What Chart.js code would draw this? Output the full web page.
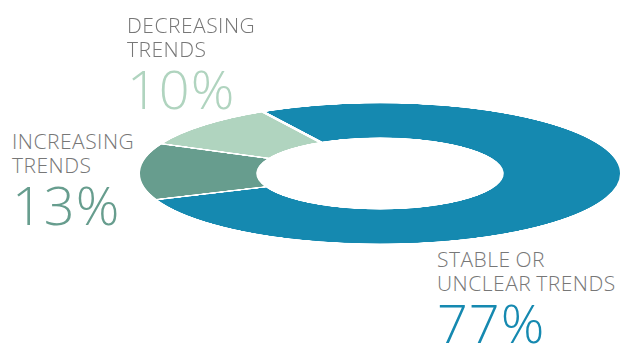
<!DOCTYPE html>
<html>
<head>
<meta charset="utf-8">
<script src="https://cdn.jsdelivr.net/npm/chart.js@4.4.0/dist/chart.umd.min.js"></script>
<style>
  html, body { margin: 0; padding: 0; background: #fff; }
  #wrap { position: relative; width: 622px; height: 345px; overflow: hidden; font-family: "Open Sans", sans-serif; }
  #ring { position: absolute; left: 135px; top: 101.5px; width: 490px; height: 490px; transform: scaleY(0.2917); transform-origin: 0 0; }
  .lbl { position: absolute; color: #777; font-size: 21px; font-weight: 300; line-height: 24px; letter-spacing: 0.5px; word-spacing: -1px; white-space: nowrap; }
  .pct { display: block; font-size: 54px; line-height: 56px; margin-top: -1px; letter-spacing: 1px; font-weight: 300; }
</style>
</head>
<body>
<div id="wrap">
  <div id="ring"><canvas id="donut" width="490" height="490"></canvas></div>
</div>
<script>
const categories = ['STABLE OR UNCLEAR TRENDS', 'INCREASING TRENDS', 'DECREASING TRENDS'];
const labelLines = [['STABLE OR', 'UNCLEAR TRENDS'], ['INCREASING', 'TRENDS'], ['DECREASING', 'TRENDS']];
const shares = [77, 13, 10];
const colors = ['#1589b0', '#679d8e', '#b0d4bf'];

// where each label block sits
const labelPos = [
    { left: 437, top: 247 },
    { left: 12, top: 129 },
    { left: 127, top: 13 }
];

const wrap = document.getElementById('wrap');
categories.forEach((cat, i) => {
    const div = document.createElement('div');
    div.className = 'lbl';
    div.style.left = labelPos[i].left + 'px';
    div.style.top = labelPos[i].top + 'px';
    div.innerHTML = labelLines[i].join('<br>') +
        '<span class="pct" style="color:' + colors[i] + '">' + shares[i] + '%</span>';
    wrap.appendChild(div);
});

new Chart(document.getElementById('donut'), {
    type: 'doughnut',
    data: {
        labels: categories,
        datasets: [{
            data: shares,
            backgroundColor: colors,
            borderColor: '#fff',
            borderWidth: 5
        }]
    },
    options: {
        responsive: false,
        animation: false,
        rotation: -29,
        cutout: '50%',
        layout: { padding: 0 },
        plugins: {
            legend: { display: false },
            tooltip: { enabled: false }
        }
    }
});
</script>
</body>
</html>
